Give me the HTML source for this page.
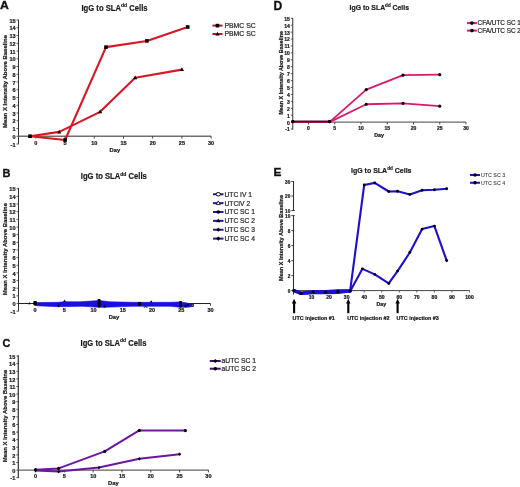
<!DOCTYPE html>
<html><head><meta charset="utf-8"><style>
html,body{margin:0;padding:0;background:#fff;}
body{width:520px;height:487px;overflow:hidden;}
svg{display:block;font-family:"Liberation Sans", sans-serif;will-change:transform;filter:blur(0.25px);}
</style></head><body>
<svg width="520" height="487" viewBox="0 0 520 487">
<rect width="520" height="487" fill="#fff"/>
<text x="0" y="0" font-size="11.8" font-weight="bold" fill="#111" stroke="#111" stroke-width="0.3" transform="translate(0.10 8.70) scale(1.04 1)">A</text>
<text x="81.50" y="11.00" font-size="8.5" font-weight="bold" fill="#1a1a1a" stroke="#1a1a1a" stroke-width="0.2" textLength="66.10" lengthAdjust="spacingAndGlyphs">IgG to SLA<tspan font-size="5.61" dy="-3.65">dd</tspan><tspan dy="3.65"> Cells</tspan></text>
<line x1="18.50" y1="19.60" x2="18.50" y2="144.20" stroke="#333" stroke-width="1.0"/>
<line x1="16.50" y1="144.00" x2="18.50" y2="144.00" stroke="#333" stroke-width="0.8"/>
<text x="15.50" y="146.58" font-size="5.5" font-weight="bold" text-anchor="end" fill="#1a1a1a" stroke="#1a1a1a" stroke-width="0.22">-1</text>
<line x1="16.50" y1="136.25" x2="18.50" y2="136.25" stroke="#333" stroke-width="0.8"/>
<text x="15.50" y="138.83" font-size="5.5" font-weight="bold" text-anchor="end" fill="#1a1a1a" stroke="#1a1a1a" stroke-width="0.22">0</text>
<line x1="16.50" y1="128.50" x2="18.50" y2="128.50" stroke="#333" stroke-width="0.8"/>
<text x="15.50" y="131.08" font-size="5.5" font-weight="bold" text-anchor="end" fill="#1a1a1a" stroke="#1a1a1a" stroke-width="0.22">1</text>
<line x1="16.50" y1="120.75" x2="18.50" y2="120.75" stroke="#333" stroke-width="0.8"/>
<text x="15.50" y="123.33" font-size="5.5" font-weight="bold" text-anchor="end" fill="#1a1a1a" stroke="#1a1a1a" stroke-width="0.22">2</text>
<line x1="16.50" y1="113.00" x2="18.50" y2="113.00" stroke="#333" stroke-width="0.8"/>
<text x="15.50" y="115.58" font-size="5.5" font-weight="bold" text-anchor="end" fill="#1a1a1a" stroke="#1a1a1a" stroke-width="0.22">3</text>
<line x1="16.50" y1="105.25" x2="18.50" y2="105.25" stroke="#333" stroke-width="0.8"/>
<text x="15.50" y="107.83" font-size="5.5" font-weight="bold" text-anchor="end" fill="#1a1a1a" stroke="#1a1a1a" stroke-width="0.22">4</text>
<line x1="16.50" y1="97.50" x2="18.50" y2="97.50" stroke="#333" stroke-width="0.8"/>
<text x="15.50" y="100.08" font-size="5.5" font-weight="bold" text-anchor="end" fill="#1a1a1a" stroke="#1a1a1a" stroke-width="0.22">5</text>
<line x1="16.50" y1="89.75" x2="18.50" y2="89.75" stroke="#333" stroke-width="0.8"/>
<text x="15.50" y="92.33" font-size="5.5" font-weight="bold" text-anchor="end" fill="#1a1a1a" stroke="#1a1a1a" stroke-width="0.22">6</text>
<line x1="16.50" y1="82.00" x2="18.50" y2="82.00" stroke="#333" stroke-width="0.8"/>
<text x="15.50" y="84.58" font-size="5.5" font-weight="bold" text-anchor="end" fill="#1a1a1a" stroke="#1a1a1a" stroke-width="0.22">7</text>
<line x1="16.50" y1="74.25" x2="18.50" y2="74.25" stroke="#333" stroke-width="0.8"/>
<text x="15.50" y="76.83" font-size="5.5" font-weight="bold" text-anchor="end" fill="#1a1a1a" stroke="#1a1a1a" stroke-width="0.22">8</text>
<line x1="16.50" y1="66.50" x2="18.50" y2="66.50" stroke="#333" stroke-width="0.8"/>
<text x="15.50" y="69.08" font-size="5.5" font-weight="bold" text-anchor="end" fill="#1a1a1a" stroke="#1a1a1a" stroke-width="0.22">9</text>
<line x1="16.50" y1="58.75" x2="18.50" y2="58.75" stroke="#333" stroke-width="0.8"/>
<text x="15.50" y="61.33" font-size="5.5" font-weight="bold" text-anchor="end" fill="#1a1a1a" stroke="#1a1a1a" stroke-width="0.22">10</text>
<line x1="16.50" y1="51.00" x2="18.50" y2="51.00" stroke="#333" stroke-width="0.8"/>
<text x="15.50" y="53.58" font-size="5.5" font-weight="bold" text-anchor="end" fill="#1a1a1a" stroke="#1a1a1a" stroke-width="0.22">11</text>
<line x1="16.50" y1="43.25" x2="18.50" y2="43.25" stroke="#333" stroke-width="0.8"/>
<text x="15.50" y="45.83" font-size="5.5" font-weight="bold" text-anchor="end" fill="#1a1a1a" stroke="#1a1a1a" stroke-width="0.22">12</text>
<line x1="16.50" y1="35.50" x2="18.50" y2="35.50" stroke="#333" stroke-width="0.8"/>
<text x="15.50" y="38.08" font-size="5.5" font-weight="bold" text-anchor="end" fill="#1a1a1a" stroke="#1a1a1a" stroke-width="0.22">13</text>
<line x1="16.50" y1="27.75" x2="18.50" y2="27.75" stroke="#333" stroke-width="0.8"/>
<text x="15.50" y="30.33" font-size="5.5" font-weight="bold" text-anchor="end" fill="#1a1a1a" stroke="#1a1a1a" stroke-width="0.22">14</text>
<line x1="16.50" y1="20.00" x2="18.50" y2="20.00" stroke="#333" stroke-width="0.8"/>
<text x="15.50" y="22.58" font-size="5.5" font-weight="bold" text-anchor="end" fill="#1a1a1a" stroke="#1a1a1a" stroke-width="0.22">15</text>
<line x1="18.50" y1="136.25" x2="211.20" y2="136.25" stroke="#707070" stroke-width="1.4"/>
<line x1="35.90" y1="136.25" x2="35.90" y2="138.55" stroke="#333" stroke-width="0.9"/>
<text x="35.90" y="144.75" font-size="5.5" font-weight="bold" text-anchor="middle" fill="#1a1a1a" stroke="#1a1a1a" stroke-width="0.22">0</text>
<line x1="65.10" y1="136.25" x2="65.10" y2="138.55" stroke="#333" stroke-width="0.9"/>
<text x="65.10" y="144.75" font-size="5.5" font-weight="bold" text-anchor="middle" fill="#1a1a1a" stroke="#1a1a1a" stroke-width="0.22">5</text>
<line x1="94.30" y1="136.25" x2="94.30" y2="138.55" stroke="#333" stroke-width="0.9"/>
<text x="94.30" y="144.75" font-size="5.5" font-weight="bold" text-anchor="middle" fill="#1a1a1a" stroke="#1a1a1a" stroke-width="0.22">10</text>
<line x1="123.50" y1="136.25" x2="123.50" y2="138.55" stroke="#333" stroke-width="0.9"/>
<text x="123.50" y="144.75" font-size="5.5" font-weight="bold" text-anchor="middle" fill="#1a1a1a" stroke="#1a1a1a" stroke-width="0.22">15</text>
<line x1="152.70" y1="136.25" x2="152.70" y2="138.55" stroke="#333" stroke-width="0.9"/>
<text x="152.70" y="144.75" font-size="5.5" font-weight="bold" text-anchor="middle" fill="#1a1a1a" stroke="#1a1a1a" stroke-width="0.22">20</text>
<line x1="181.90" y1="136.25" x2="181.90" y2="138.55" stroke="#333" stroke-width="0.9"/>
<text x="181.90" y="144.75" font-size="5.5" font-weight="bold" text-anchor="middle" fill="#1a1a1a" stroke="#1a1a1a" stroke-width="0.22">25</text>
<line x1="211.10" y1="136.25" x2="211.10" y2="138.55" stroke="#333" stroke-width="0.9"/>
<text x="211.10" y="144.75" font-size="5.5" font-weight="bold" text-anchor="middle" fill="#1a1a1a" stroke="#1a1a1a" stroke-width="0.22">30</text>
<text x="5.10" y="81.50" font-size="5.98" font-weight="bold" text-anchor="middle" fill="#1a1a1a" stroke="#1a1a1a" stroke-width="0.22" transform="rotate(-90 5.1 81.5)" dominant-baseline="middle">Mean X Intensity Above Baseline</text>
<text x="114.90" y="152.00" font-size="5.8" font-weight="bold" text-anchor="middle" fill="#1a1a1a" stroke="#1a1a1a" stroke-width="0.22">Day</text>
<polyline points="30.06,136.25 59.26,131.91 100.14,111.84 135.18,77.66 181.90,69.60" fill="none" stroke="#da1622" stroke-width="2.1" stroke-linejoin="round" stroke-linecap="round"/>
<polygon points="30.06,133.98 32.16,137.76 27.96,137.76" fill="#000"/>
<polygon points="59.26,129.64 61.36,133.42 57.16,133.42" fill="#000"/>
<polygon points="100.14,109.57 102.24,113.35 98.04,113.35" fill="#000"/>
<polygon points="135.18,75.39 137.28,79.17 133.08,79.17" fill="#000"/>
<polygon points="181.90,67.33 184.00,71.11 179.80,71.11" fill="#000"/>
<polyline points="30.06,136.25 65.10,139.97 105.98,47.12 146.86,40.92 187.74,26.98" fill="none" stroke="#da1622" stroke-width="2.1" stroke-linejoin="round" stroke-linecap="round"/>
<rect x="28.26" y="134.45" width="3.60" height="3.60" fill="#000"/>
<rect x="63.30" y="138.17" width="3.60" height="3.60" fill="#000"/>
<rect x="104.18" y="45.33" width="3.60" height="3.60" fill="#000"/>
<rect x="145.06" y="39.12" width="3.60" height="3.60" fill="#000"/>
<rect x="185.94" y="25.18" width="3.60" height="3.60" fill="#000"/>
<line x1="212.40" y1="25.60" x2="222.50" y2="25.60" stroke="#c01424" stroke-width="2.0"/>
<rect x="215.65" y="23.80" width="3.60" height="3.60" fill="#000"/>
<text x="224.40" y="28.08" font-size="6.9" font-weight="normal" text-anchor="start" fill="#2a2a2a" stroke="#2a2a2a" stroke-width="0.22">PBMC SC</text>
<line x1="212.40" y1="34.00" x2="222.50" y2="34.00" stroke="#c01424" stroke-width="2.0"/>
<polygon points="217.45,31.76 219.52,35.49 215.38,35.49" fill="#000"/>
<text x="224.40" y="36.48" font-size="6.9" font-weight="normal" text-anchor="start" fill="#2a2a2a" stroke="#2a2a2a" stroke-width="0.22">PBMC SC</text>
<text x="0" y="0" font-size="11.9" font-weight="bold" fill="#111" stroke="#111" stroke-width="0.3" transform="translate(273.40 9.75) scale(1.02 1)">D</text>
<text x="349.60" y="9.90" font-size="7.3" font-weight="bold" fill="#1a1a1a" stroke="#1a1a1a" stroke-width="0.2" textLength="59.40" lengthAdjust="spacingAndGlyphs">IgG to SLA<tspan font-size="4.82" dy="-3.14">dd</tspan><tspan dy="3.14"> Cells</tspan></text>
<line x1="292.75" y1="18.00" x2="292.75" y2="129.70" stroke="#333" stroke-width="1.0"/>
<line x1="290.75" y1="129.02" x2="292.75" y2="129.02" stroke="#333" stroke-width="0.8"/>
<text x="289.75" y="131.42" font-size="5.0" font-weight="bold" text-anchor="end" fill="#1a1a1a" stroke="#1a1a1a" stroke-width="0.22">-1</text>
<line x1="290.75" y1="122.10" x2="292.75" y2="122.10" stroke="#333" stroke-width="0.8"/>
<text x="289.75" y="124.50" font-size="5.0" font-weight="bold" text-anchor="end" fill="#1a1a1a" stroke="#1a1a1a" stroke-width="0.22">0</text>
<line x1="290.75" y1="115.18" x2="292.75" y2="115.18" stroke="#333" stroke-width="0.8"/>
<text x="289.75" y="117.58" font-size="5.0" font-weight="bold" text-anchor="end" fill="#1a1a1a" stroke="#1a1a1a" stroke-width="0.22">1</text>
<line x1="290.75" y1="108.26" x2="292.75" y2="108.26" stroke="#333" stroke-width="0.8"/>
<text x="289.75" y="110.66" font-size="5.0" font-weight="bold" text-anchor="end" fill="#1a1a1a" stroke="#1a1a1a" stroke-width="0.22">2</text>
<line x1="290.75" y1="101.34" x2="292.75" y2="101.34" stroke="#333" stroke-width="0.8"/>
<text x="289.75" y="103.74" font-size="5.0" font-weight="bold" text-anchor="end" fill="#1a1a1a" stroke="#1a1a1a" stroke-width="0.22">3</text>
<line x1="290.75" y1="94.42" x2="292.75" y2="94.42" stroke="#333" stroke-width="0.8"/>
<text x="289.75" y="96.82" font-size="5.0" font-weight="bold" text-anchor="end" fill="#1a1a1a" stroke="#1a1a1a" stroke-width="0.22">4</text>
<line x1="290.75" y1="87.50" x2="292.75" y2="87.50" stroke="#333" stroke-width="0.8"/>
<text x="289.75" y="89.90" font-size="5.0" font-weight="bold" text-anchor="end" fill="#1a1a1a" stroke="#1a1a1a" stroke-width="0.22">5</text>
<line x1="290.75" y1="80.58" x2="292.75" y2="80.58" stroke="#333" stroke-width="0.8"/>
<text x="289.75" y="82.98" font-size="5.0" font-weight="bold" text-anchor="end" fill="#1a1a1a" stroke="#1a1a1a" stroke-width="0.22">6</text>
<line x1="290.75" y1="73.66" x2="292.75" y2="73.66" stroke="#333" stroke-width="0.8"/>
<text x="289.75" y="76.06" font-size="5.0" font-weight="bold" text-anchor="end" fill="#1a1a1a" stroke="#1a1a1a" stroke-width="0.22">7</text>
<line x1="290.75" y1="66.74" x2="292.75" y2="66.74" stroke="#333" stroke-width="0.8"/>
<text x="289.75" y="69.14" font-size="5.0" font-weight="bold" text-anchor="end" fill="#1a1a1a" stroke="#1a1a1a" stroke-width="0.22">8</text>
<line x1="290.75" y1="59.82" x2="292.75" y2="59.82" stroke="#333" stroke-width="0.8"/>
<text x="289.75" y="62.22" font-size="5.0" font-weight="bold" text-anchor="end" fill="#1a1a1a" stroke="#1a1a1a" stroke-width="0.22">9</text>
<line x1="290.75" y1="52.90" x2="292.75" y2="52.90" stroke="#333" stroke-width="0.8"/>
<text x="289.75" y="55.30" font-size="5.0" font-weight="bold" text-anchor="end" fill="#1a1a1a" stroke="#1a1a1a" stroke-width="0.22">10</text>
<line x1="290.75" y1="45.98" x2="292.75" y2="45.98" stroke="#333" stroke-width="0.8"/>
<text x="289.75" y="48.38" font-size="5.0" font-weight="bold" text-anchor="end" fill="#1a1a1a" stroke="#1a1a1a" stroke-width="0.22">11</text>
<line x1="290.75" y1="39.06" x2="292.75" y2="39.06" stroke="#333" stroke-width="0.8"/>
<text x="289.75" y="41.46" font-size="5.0" font-weight="bold" text-anchor="end" fill="#1a1a1a" stroke="#1a1a1a" stroke-width="0.22">12</text>
<line x1="290.75" y1="32.14" x2="292.75" y2="32.14" stroke="#333" stroke-width="0.8"/>
<text x="289.75" y="34.54" font-size="5.0" font-weight="bold" text-anchor="end" fill="#1a1a1a" stroke="#1a1a1a" stroke-width="0.22">13</text>
<line x1="290.75" y1="25.22" x2="292.75" y2="25.22" stroke="#333" stroke-width="0.8"/>
<text x="289.75" y="27.62" font-size="5.0" font-weight="bold" text-anchor="end" fill="#1a1a1a" stroke="#1a1a1a" stroke-width="0.22">14</text>
<line x1="290.75" y1="18.30" x2="292.75" y2="18.30" stroke="#333" stroke-width="0.8"/>
<text x="289.75" y="20.70" font-size="5.0" font-weight="bold" text-anchor="end" fill="#1a1a1a" stroke="#1a1a1a" stroke-width="0.22">15</text>
<line x1="292.75" y1="122.10" x2="466.00" y2="122.10" stroke="#444" stroke-width="1.0"/>
<line x1="308.50" y1="122.10" x2="308.50" y2="124.40" stroke="#333" stroke-width="0.9"/>
<text x="308.50" y="129.70" font-size="5.0" font-weight="bold" text-anchor="middle" fill="#1a1a1a" stroke="#1a1a1a" stroke-width="0.22">0</text>
<line x1="334.75" y1="122.10" x2="334.75" y2="124.40" stroke="#333" stroke-width="0.9"/>
<text x="334.75" y="129.70" font-size="5.0" font-weight="bold" text-anchor="middle" fill="#1a1a1a" stroke="#1a1a1a" stroke-width="0.22">5</text>
<line x1="361.00" y1="122.10" x2="361.00" y2="124.40" stroke="#333" stroke-width="0.9"/>
<text x="361.00" y="129.70" font-size="5.0" font-weight="bold" text-anchor="middle" fill="#1a1a1a" stroke="#1a1a1a" stroke-width="0.22">10</text>
<line x1="387.25" y1="122.10" x2="387.25" y2="124.40" stroke="#333" stroke-width="0.9"/>
<text x="387.25" y="129.70" font-size="5.0" font-weight="bold" text-anchor="middle" fill="#1a1a1a" stroke="#1a1a1a" stroke-width="0.22">15</text>
<line x1="413.50" y1="122.10" x2="413.50" y2="124.40" stroke="#333" stroke-width="0.9"/>
<text x="413.50" y="129.70" font-size="5.0" font-weight="bold" text-anchor="middle" fill="#1a1a1a" stroke="#1a1a1a" stroke-width="0.22">20</text>
<line x1="439.75" y1="122.10" x2="439.75" y2="124.40" stroke="#333" stroke-width="0.9"/>
<text x="439.75" y="129.70" font-size="5.0" font-weight="bold" text-anchor="middle" fill="#1a1a1a" stroke="#1a1a1a" stroke-width="0.22">25</text>
<line x1="466.00" y1="122.10" x2="466.00" y2="124.40" stroke="#333" stroke-width="0.9"/>
<text x="466.00" y="129.70" font-size="5.0" font-weight="bold" text-anchor="middle" fill="#1a1a1a" stroke="#1a1a1a" stroke-width="0.22">30</text>
<text x="281.90" y="72.85" font-size="5.36" font-weight="bold" text-anchor="middle" fill="#1a1a1a" stroke="#1a1a1a" stroke-width="0.22" transform="rotate(-90 281.9 72.85)" dominant-baseline="middle">Mean X Intensity Above Baseline</text>
<text x="379.00" y="137.00" font-size="5.3" font-weight="bold" text-anchor="middle" fill="#1a1a1a" stroke="#1a1a1a" stroke-width="0.22">Day</text>
<polyline points="292.75,122.10 329.50,122.10 366.25,89.58 403.00,75.18 439.75,74.63" fill="none" stroke="#d81a70" stroke-width="1.8" stroke-linejoin="round" stroke-linecap="round"/>
<polyline points="292.75,122.10 329.50,122.10 366.25,104.25 403.00,103.35 439.75,106.18" fill="none" stroke="#d81a70" stroke-width="1.8" stroke-linejoin="round" stroke-linecap="round"/>
<line x1="292.75" y1="121.60" x2="329.50" y2="121.60" stroke="#5a0a30" stroke-width="2.0"/>
<circle cx="292.75" cy="121.60" r="1.60" fill="#000"/>
<circle cx="329.50" cy="121.60" r="1.60" fill="#000"/>
<circle cx="366.25" cy="89.58" r="1.60" fill="#000"/>
<circle cx="403.00" cy="75.18" r="1.60" fill="#000"/>
<circle cx="439.75" cy="74.63" r="1.60" fill="#000"/>
<circle cx="292.75" cy="121.60" r="1.60" fill="#000"/>
<circle cx="329.50" cy="121.60" r="1.60" fill="#000"/>
<circle cx="366.25" cy="104.25" r="1.60" fill="#000"/>
<circle cx="403.00" cy="103.35" r="1.60" fill="#000"/>
<circle cx="439.75" cy="106.18" r="1.60" fill="#000"/>
<line x1="466.90" y1="23.10" x2="476.90" y2="23.10" stroke="#d81a70" stroke-width="2.0"/>
<circle cx="471.90" cy="23.10" r="1.80" fill="#000"/>
<text x="477.60" y="25.40" font-size="6.4" font-weight="normal" text-anchor="start" fill="#2a2a2a" stroke="#2a2a2a" stroke-width="0.22">CFA/UTC SC 1</text>
<line x1="466.90" y1="30.60" x2="476.90" y2="30.60" stroke="#d81a70" stroke-width="2.0"/>
<circle cx="471.90" cy="30.60" r="1.80" fill="#000"/>
<text x="477.60" y="32.90" font-size="6.4" font-weight="normal" text-anchor="start" fill="#2a2a2a" stroke="#2a2a2a" stroke-width="0.22">CFA/UTC SC 2</text>
<text x="0" y="0" font-size="11.4" font-weight="bold" fill="#111" stroke="#111" stroke-width="0.3" transform="translate(2.60 176.95) scale(0.97 1)">B</text>
<text x="80.80" y="179.40" font-size="8.5" font-weight="bold" fill="#1a1a1a" stroke="#1a1a1a" stroke-width="0.2" textLength="66.00" lengthAdjust="spacingAndGlyphs">IgG to SLA<tspan font-size="5.61" dy="-3.65">dd</tspan><tspan dy="3.65"> Cells</tspan></text>
<line x1="18.50" y1="188.00" x2="18.50" y2="311.30" stroke="#333" stroke-width="1.0"/>
<line x1="16.50" y1="311.15" x2="18.50" y2="311.15" stroke="#333" stroke-width="0.8"/>
<text x="15.50" y="313.77" font-size="5.6" font-weight="bold" text-anchor="end" fill="#1a1a1a" stroke="#1a1a1a" stroke-width="0.22">-1</text>
<line x1="16.50" y1="303.50" x2="18.50" y2="303.50" stroke="#333" stroke-width="0.8"/>
<text x="15.50" y="306.12" font-size="5.6" font-weight="bold" text-anchor="end" fill="#1a1a1a" stroke="#1a1a1a" stroke-width="0.22">0</text>
<line x1="16.50" y1="295.85" x2="18.50" y2="295.85" stroke="#333" stroke-width="0.8"/>
<text x="15.50" y="298.47" font-size="5.6" font-weight="bold" text-anchor="end" fill="#1a1a1a" stroke="#1a1a1a" stroke-width="0.22">1</text>
<line x1="16.50" y1="288.20" x2="18.50" y2="288.20" stroke="#333" stroke-width="0.8"/>
<text x="15.50" y="290.82" font-size="5.6" font-weight="bold" text-anchor="end" fill="#1a1a1a" stroke="#1a1a1a" stroke-width="0.22">2</text>
<line x1="16.50" y1="280.55" x2="18.50" y2="280.55" stroke="#333" stroke-width="0.8"/>
<text x="15.50" y="283.17" font-size="5.6" font-weight="bold" text-anchor="end" fill="#1a1a1a" stroke="#1a1a1a" stroke-width="0.22">3</text>
<line x1="16.50" y1="272.90" x2="18.50" y2="272.90" stroke="#333" stroke-width="0.8"/>
<text x="15.50" y="275.52" font-size="5.6" font-weight="bold" text-anchor="end" fill="#1a1a1a" stroke="#1a1a1a" stroke-width="0.22">4</text>
<line x1="16.50" y1="265.25" x2="18.50" y2="265.25" stroke="#333" stroke-width="0.8"/>
<text x="15.50" y="267.87" font-size="5.6" font-weight="bold" text-anchor="end" fill="#1a1a1a" stroke="#1a1a1a" stroke-width="0.22">5</text>
<line x1="16.50" y1="257.60" x2="18.50" y2="257.60" stroke="#333" stroke-width="0.8"/>
<text x="15.50" y="260.22" font-size="5.6" font-weight="bold" text-anchor="end" fill="#1a1a1a" stroke="#1a1a1a" stroke-width="0.22">6</text>
<line x1="16.50" y1="249.95" x2="18.50" y2="249.95" stroke="#333" stroke-width="0.8"/>
<text x="15.50" y="252.57" font-size="5.6" font-weight="bold" text-anchor="end" fill="#1a1a1a" stroke="#1a1a1a" stroke-width="0.22">7</text>
<line x1="16.50" y1="242.30" x2="18.50" y2="242.30" stroke="#333" stroke-width="0.8"/>
<text x="15.50" y="244.92" font-size="5.6" font-weight="bold" text-anchor="end" fill="#1a1a1a" stroke="#1a1a1a" stroke-width="0.22">8</text>
<line x1="16.50" y1="234.65" x2="18.50" y2="234.65" stroke="#333" stroke-width="0.8"/>
<text x="15.50" y="237.27" font-size="5.6" font-weight="bold" text-anchor="end" fill="#1a1a1a" stroke="#1a1a1a" stroke-width="0.22">9</text>
<line x1="16.50" y1="227.00" x2="18.50" y2="227.00" stroke="#333" stroke-width="0.8"/>
<text x="15.50" y="229.62" font-size="5.6" font-weight="bold" text-anchor="end" fill="#1a1a1a" stroke="#1a1a1a" stroke-width="0.22">10</text>
<line x1="16.50" y1="219.35" x2="18.50" y2="219.35" stroke="#333" stroke-width="0.8"/>
<text x="15.50" y="221.97" font-size="5.6" font-weight="bold" text-anchor="end" fill="#1a1a1a" stroke="#1a1a1a" stroke-width="0.22">11</text>
<line x1="16.50" y1="211.70" x2="18.50" y2="211.70" stroke="#333" stroke-width="0.8"/>
<text x="15.50" y="214.32" font-size="5.6" font-weight="bold" text-anchor="end" fill="#1a1a1a" stroke="#1a1a1a" stroke-width="0.22">12</text>
<line x1="16.50" y1="204.05" x2="18.50" y2="204.05" stroke="#333" stroke-width="0.8"/>
<text x="15.50" y="206.67" font-size="5.6" font-weight="bold" text-anchor="end" fill="#1a1a1a" stroke="#1a1a1a" stroke-width="0.22">13</text>
<line x1="16.50" y1="196.40" x2="18.50" y2="196.40" stroke="#333" stroke-width="0.8"/>
<text x="15.50" y="199.02" font-size="5.6" font-weight="bold" text-anchor="end" fill="#1a1a1a" stroke="#1a1a1a" stroke-width="0.22">14</text>
<line x1="16.50" y1="188.75" x2="18.50" y2="188.75" stroke="#333" stroke-width="0.8"/>
<text x="15.50" y="191.37" font-size="5.6" font-weight="bold" text-anchor="end" fill="#1a1a1a" stroke="#1a1a1a" stroke-width="0.22">15</text>
<line x1="18.50" y1="303.50" x2="210.50" y2="303.50" stroke="#222" stroke-width="1.0"/>
<line x1="35.00" y1="303.50" x2="35.00" y2="305.80" stroke="#333" stroke-width="0.9"/>
<text x="35.00" y="311.80" font-size="5.5" font-weight="bold" text-anchor="middle" fill="#1a1a1a" stroke="#1a1a1a" stroke-width="0.22">0</text>
<line x1="64.25" y1="303.50" x2="64.25" y2="305.80" stroke="#333" stroke-width="0.9"/>
<text x="64.25" y="311.80" font-size="5.5" font-weight="bold" text-anchor="middle" fill="#1a1a1a" stroke="#1a1a1a" stroke-width="0.22">5</text>
<line x1="93.50" y1="303.50" x2="93.50" y2="305.80" stroke="#333" stroke-width="0.9"/>
<text x="93.50" y="311.80" font-size="5.5" font-weight="bold" text-anchor="middle" fill="#1a1a1a" stroke="#1a1a1a" stroke-width="0.22">10</text>
<line x1="122.75" y1="303.50" x2="122.75" y2="305.80" stroke="#333" stroke-width="0.9"/>
<text x="122.75" y="311.80" font-size="5.5" font-weight="bold" text-anchor="middle" fill="#1a1a1a" stroke="#1a1a1a" stroke-width="0.22">15</text>
<line x1="152.00" y1="303.50" x2="152.00" y2="305.80" stroke="#333" stroke-width="0.9"/>
<text x="152.00" y="311.80" font-size="5.5" font-weight="bold" text-anchor="middle" fill="#1a1a1a" stroke="#1a1a1a" stroke-width="0.22">20</text>
<line x1="181.25" y1="303.50" x2="181.25" y2="305.80" stroke="#333" stroke-width="0.9"/>
<text x="181.25" y="311.80" font-size="5.5" font-weight="bold" text-anchor="middle" fill="#1a1a1a" stroke="#1a1a1a" stroke-width="0.22">25</text>
<line x1="210.50" y1="303.50" x2="210.50" y2="305.80" stroke="#333" stroke-width="0.9"/>
<text x="210.50" y="311.80" font-size="5.5" font-weight="bold" text-anchor="middle" fill="#1a1a1a" stroke="#1a1a1a" stroke-width="0.22">30</text>
<text x="5.20" y="249.10" font-size="5.93" font-weight="bold" text-anchor="middle" fill="#1a1a1a" stroke="#1a1a1a" stroke-width="0.22" transform="rotate(-90 5.2 249.1)" dominant-baseline="middle">Mean X Intensity Above Baseline</text>
<text x="114.00" y="319.20" font-size="5.8" font-weight="bold" text-anchor="middle" fill="#1a1a1a" stroke="#1a1a1a" stroke-width="0.22">Day</text>
<polygon points="35.00,302.60 58.00,302.30 64.50,301.70 80.00,301.80 99.00,300.50 110.00,301.80 132.00,302.30 151.00,302.30 170.00,302.30 180.00,301.90 186.00,302.80 190.00,303.70 193.50,304.30 193.50,306.30 188.00,307.30 180.00,307.30 170.00,306.30 150.00,306.30 132.00,306.30 105.00,307.30 99.00,307.30 82.00,306.30 58.00,306.70 37.00,305.80 35.00,305.30" fill="#1a0ee0" stroke="#1a0ee0" stroke-width="0.6" stroke-linejoin="round"/>
<polygon points="29.30,301.90 30.60,304.24 28.00,304.24" fill="#000"/>
<rect x="33.3" y="301.0" width="3.6" height="4.2" rx="1" fill="#000"/>
<polygon points="58.50,304.30 60.00,305.80 58.50,307.30 57.00,305.80" fill="#000"/>
<polygon points="64.50,299.49 65.90,302.01 63.10,302.01" fill="#000"/>
<rect x="97.6" y="299.0" width="3.0" height="8.4" rx="0.8" fill="#000"/>
<circle cx="104.50" cy="306.40" r="1.20" fill="#000"/>
<rect x="138.0" y="302.0" width="3.2" height="3.6" fill="#000"/>
<path d="M143.8,307.4 Q145.5,306.0 147.4,307.4" fill="none" stroke="#000" stroke-width="0.9"/>
<polygon points="151.20,300.20 152.50,302.54 149.90,302.54" fill="#000"/>
<rect x="179.2" y="301.0" width="2.8" height="6.6" rx="0.8" fill="#000"/>
<circle cx="185.50" cy="306.00" r="1.20" fill="#000"/>
<circle cx="187.80" cy="305.00" r="1.00" fill="#000"/>
<polygon points="192.20,303.60 193.50,305.94 190.90,305.94" fill="#fff" stroke="#000" stroke-width="0.8"/>
<line x1="213.00" y1="194.25" x2="223.50" y2="194.25" stroke="#201a9a" stroke-width="2.0"/>
<ellipse cx="218.25" cy="194.25" rx="2.25" ry="1.73" fill="#fff" stroke="#000" stroke-width="1.0"/>
<text x="224.50" y="196.66" font-size="6.7" font-weight="normal" text-anchor="start" fill="#2a2a2a" stroke="#2a2a2a" stroke-width="0.22">UTC IV 1</text>
<line x1="213.00" y1="203.12" x2="223.50" y2="203.12" stroke="#201a9a" stroke-width="2.0"/>
<polygon points="218.25,200.88 220.32,204.61 216.18,204.61" fill="#fff" stroke="#000" stroke-width="0.8"/>
<text x="224.50" y="205.53" font-size="6.7" font-weight="normal" text-anchor="start" fill="#2a2a2a" stroke="#2a2a2a" stroke-width="0.22">UTCIV 2</text>
<line x1="213.00" y1="211.99" x2="223.50" y2="211.99" stroke="#201a9a" stroke-width="2.0"/>
<circle cx="218.25" cy="211.99" r="1.80" fill="#000"/>
<text x="224.50" y="214.40" font-size="6.7" font-weight="normal" text-anchor="start" fill="#2a2a2a" stroke="#2a2a2a" stroke-width="0.22">UTC SC 1</text>
<line x1="213.00" y1="220.86" x2="223.50" y2="220.86" stroke="#201a9a" stroke-width="2.0"/>
<polygon points="218.25,218.62 220.32,222.35 216.18,222.35" fill="#000"/>
<text x="224.50" y="223.27" font-size="6.7" font-weight="normal" text-anchor="start" fill="#2a2a2a" stroke="#2a2a2a" stroke-width="0.22">UTC SC 2</text>
<line x1="213.00" y1="229.73" x2="223.50" y2="229.73" stroke="#201a9a" stroke-width="2.0"/>
<polygon points="218.25,227.66 220.32,229.73 218.25,231.80 216.18,229.73" fill="#000"/>
<text x="224.50" y="232.14" font-size="6.7" font-weight="normal" text-anchor="start" fill="#2a2a2a" stroke="#2a2a2a" stroke-width="0.22">UTC SC 3</text>
<line x1="213.00" y1="238.60" x2="223.50" y2="238.60" stroke="#201a9a" stroke-width="2.0"/>
<polygon points="218.25,236.53 220.32,238.60 218.25,240.67 216.18,238.60" fill="#000"/>
<text x="224.50" y="241.01" font-size="6.7" font-weight="normal" text-anchor="start" fill="#2a2a2a" stroke="#2a2a2a" stroke-width="0.22">UTC SC 4</text>
<text x="0" y="0" font-size="11.0" font-weight="bold" fill="#111" stroke="#111" stroke-width="0.3" transform="translate(273.40 176.30) scale(1.08 1)">E</text>
<text x="351.00" y="173.40" font-size="7.4" font-weight="bold" fill="#1a1a1a" stroke="#1a1a1a" stroke-width="0.2" textLength="60.50" lengthAdjust="spacingAndGlyphs">IgG to SLA<tspan font-size="4.88" dy="-3.18">dd</tspan><tspan dy="3.18"> Cells</tspan></text>
<line x1="293.50" y1="181.00" x2="293.50" y2="210.60" stroke="#333" stroke-width="1.1"/>
<line x1="291.30" y1="181.50" x2="293.50" y2="181.50" stroke="#333" stroke-width="0.9"/>
<text x="290.30" y="183.70" font-size="4.7" font-weight="bold" text-anchor="end" fill="#1a1a1a" stroke="#1a1a1a" stroke-width="0.22">30</text>
<line x1="291.30" y1="196.00" x2="293.50" y2="196.00" stroke="#333" stroke-width="0.9"/>
<text x="290.30" y="198.20" font-size="4.7" font-weight="bold" text-anchor="end" fill="#1a1a1a" stroke="#1a1a1a" stroke-width="0.22">20</text>
<line x1="291.30" y1="210.50" x2="294.80" y2="210.50" stroke="#333" stroke-width="0.9"/>
<text x="290.30" y="212.70" font-size="4.7" font-weight="bold" text-anchor="end" fill="#1a1a1a" stroke="#1a1a1a" stroke-width="0.22">10</text>
<line x1="293.50" y1="215.30" x2="293.50" y2="294.50" stroke="#333" stroke-width="1.1"/>
<line x1="291.30" y1="290.60" x2="293.50" y2="290.60" stroke="#333" stroke-width="0.9"/>
<text x="290.30" y="292.80" font-size="4.7" font-weight="bold" text-anchor="end" fill="#1a1a1a" stroke="#1a1a1a" stroke-width="0.22">0</text>
<line x1="291.30" y1="275.60" x2="293.50" y2="275.60" stroke="#333" stroke-width="0.9"/>
<text x="290.30" y="277.80" font-size="4.7" font-weight="bold" text-anchor="end" fill="#1a1a1a" stroke="#1a1a1a" stroke-width="0.22">2</text>
<line x1="291.30" y1="260.60" x2="293.50" y2="260.60" stroke="#333" stroke-width="0.9"/>
<text x="290.30" y="262.80" font-size="4.7" font-weight="bold" text-anchor="end" fill="#1a1a1a" stroke="#1a1a1a" stroke-width="0.22">4</text>
<line x1="291.30" y1="245.60" x2="293.50" y2="245.60" stroke="#333" stroke-width="0.9"/>
<text x="290.30" y="247.80" font-size="4.7" font-weight="bold" text-anchor="end" fill="#1a1a1a" stroke="#1a1a1a" stroke-width="0.22">6</text>
<line x1="291.30" y1="230.60" x2="293.50" y2="230.60" stroke="#333" stroke-width="0.9"/>
<text x="290.30" y="232.80" font-size="4.7" font-weight="bold" text-anchor="end" fill="#1a1a1a" stroke="#1a1a1a" stroke-width="0.22">8</text>
<line x1="291.30" y1="215.60" x2="294.80" y2="215.60" stroke="#333" stroke-width="0.9"/>
<text x="290.30" y="217.80" font-size="4.7" font-weight="bold" text-anchor="end" fill="#1a1a1a" stroke="#1a1a1a" stroke-width="0.22">10</text>
<line x1="293.50" y1="290.60" x2="469.60" y2="290.60" stroke="#444" stroke-width="1.0"/>
<line x1="311.55" y1="290.60" x2="311.55" y2="292.60" stroke="#444" stroke-width="0.8"/>
<text x="311.55" y="298.90" font-size="5.0" font-weight="bold" text-anchor="middle" fill="#1a1a1a" stroke="#1a1a1a" stroke-width="0.22">10</text>
<line x1="329.10" y1="290.60" x2="329.10" y2="292.60" stroke="#444" stroke-width="0.8"/>
<text x="329.10" y="298.90" font-size="5.0" font-weight="bold" text-anchor="middle" fill="#1a1a1a" stroke="#1a1a1a" stroke-width="0.22">20</text>
<line x1="346.65" y1="290.60" x2="346.65" y2="292.60" stroke="#444" stroke-width="0.8"/>
<text x="346.65" y="298.90" font-size="5.0" font-weight="bold" text-anchor="middle" fill="#1a1a1a" stroke="#1a1a1a" stroke-width="0.22">30</text>
<line x1="364.20" y1="290.60" x2="364.20" y2="292.60" stroke="#444" stroke-width="0.8"/>
<text x="364.20" y="298.90" font-size="5.0" font-weight="bold" text-anchor="middle" fill="#1a1a1a" stroke="#1a1a1a" stroke-width="0.22">40</text>
<line x1="381.75" y1="290.60" x2="381.75" y2="292.60" stroke="#444" stroke-width="0.8"/>
<text x="381.75" y="298.90" font-size="5.0" font-weight="bold" text-anchor="middle" fill="#1a1a1a" stroke="#1a1a1a" stroke-width="0.22">50</text>
<line x1="399.30" y1="290.60" x2="399.30" y2="292.60" stroke="#444" stroke-width="0.8"/>
<text x="399.30" y="298.90" font-size="5.0" font-weight="bold" text-anchor="middle" fill="#1a1a1a" stroke="#1a1a1a" stroke-width="0.22">60</text>
<line x1="416.85" y1="290.60" x2="416.85" y2="292.60" stroke="#444" stroke-width="0.8"/>
<text x="416.85" y="298.90" font-size="5.0" font-weight="bold" text-anchor="middle" fill="#1a1a1a" stroke="#1a1a1a" stroke-width="0.22">70</text>
<line x1="434.40" y1="290.60" x2="434.40" y2="292.60" stroke="#444" stroke-width="0.8"/>
<text x="434.40" y="298.90" font-size="5.0" font-weight="bold" text-anchor="middle" fill="#1a1a1a" stroke="#1a1a1a" stroke-width="0.22">80</text>
<line x1="451.95" y1="290.60" x2="451.95" y2="292.60" stroke="#444" stroke-width="0.8"/>
<text x="451.95" y="298.90" font-size="5.0" font-weight="bold" text-anchor="middle" fill="#1a1a1a" stroke="#1a1a1a" stroke-width="0.22">90</text>
<line x1="469.50" y1="290.60" x2="469.50" y2="292.60" stroke="#444" stroke-width="0.8"/>
<text x="469.50" y="298.90" font-size="5.0" font-weight="bold" text-anchor="middle" fill="#1a1a1a" stroke="#1a1a1a" stroke-width="0.22">100</text>
<text x="281.70" y="237.90" font-size="5.52" font-weight="bold" text-anchor="middle" fill="#1a1a1a" stroke="#1a1a1a" stroke-width="0.22" transform="rotate(-90 281.7 237.9)" dominant-baseline="middle">Mean X Intensity Above Baseline</text>
<text x="381.30" y="305.80" font-size="5.3" font-weight="bold" text-anchor="middle" fill="#1a1a1a" stroke="#1a1a1a" stroke-width="0.22">Day</text>
<polyline points="294.00,290.60 301.02,293.41 313.31,292.10 325.59,292.10 337.88,291.54 350.16,290.98" fill="none" stroke="#1e10d0" stroke-width="3.4" stroke-linejoin="round" stroke-linecap="round"/>
<polyline points="294.00,290.60 301.02,292.85 313.31,290.98 325.59,290.98 337.88,290.23 350.16,290.60 364.20,185.00 374.73,182.90 388.77,191.50 397.54,191.30 409.83,194.40 422.12,190.30 434.40,189.80 446.69,188.80" fill="none" stroke="#1e10d0" stroke-width="2.1" stroke-linejoin="round" stroke-linecap="round"/>
<polyline points="294.00,290.60 301.02,293.98 313.31,293.23 325.59,293.23 337.88,292.85 350.16,291.35 362.44,268.85 374.73,274.40 388.77,283.48 397.54,271.10 409.83,252.50 422.12,229.10 434.40,226.10 446.69,260.60" fill="none" stroke="#1e10d0" stroke-width="2.1" stroke-linejoin="round" stroke-linecap="round"/>
<circle cx="294.00" cy="290.60" r="1.60" fill="#000"/>
<circle cx="301.02" cy="293.41" r="1.60" fill="#000"/>
<circle cx="313.31" cy="292.10" r="1.60" fill="#000"/>
<circle cx="325.59" cy="292.10" r="1.60" fill="#000"/>
<circle cx="337.88" cy="291.54" r="1.60" fill="#000"/>
<circle cx="350.16" cy="290.98" r="1.60" fill="#000"/>
<circle cx="364.20" cy="185.00" r="1.45" fill="#000"/>
<circle cx="374.73" cy="182.90" r="1.45" fill="#000"/>
<circle cx="388.77" cy="191.50" r="1.45" fill="#000"/>
<circle cx="397.54" cy="191.30" r="1.45" fill="#000"/>
<circle cx="409.83" cy="194.40" r="1.45" fill="#000"/>
<circle cx="422.12" cy="190.30" r="1.45" fill="#000"/>
<circle cx="434.40" cy="189.80" r="1.45" fill="#000"/>
<circle cx="446.69" cy="188.80" r="1.45" fill="#000"/>
<circle cx="362.44" cy="268.85" r="1.45" fill="#000"/>
<circle cx="374.73" cy="274.40" r="1.45" fill="#000"/>
<circle cx="388.77" cy="283.48" r="1.45" fill="#000"/>
<circle cx="397.54" cy="271.10" r="1.45" fill="#000"/>
<circle cx="409.83" cy="252.50" r="1.45" fill="#000"/>
<circle cx="422.12" cy="229.10" r="1.45" fill="#000"/>
<circle cx="434.40" cy="226.10" r="1.45" fill="#000"/>
<circle cx="446.69" cy="260.60" r="1.45" fill="#000"/>
<line x1="294.10" y1="302.00" x2="294.10" y2="313.20" stroke="#000" stroke-width="2.1"/>
<polygon points="294.10,298.80 296.30,303.40 291.90,303.40" fill="#000"/>
<line x1="348.30" y1="302.00" x2="348.30" y2="313.20" stroke="#000" stroke-width="2.1"/>
<polygon points="348.30,298.80 350.50,303.40 346.10,303.40" fill="#000"/>
<line x1="397.60" y1="302.00" x2="397.60" y2="313.20" stroke="#000" stroke-width="2.1"/>
<polygon points="397.60,298.80 399.80,303.40 395.40,303.40" fill="#000"/>
<text x="292.60" y="319.50" font-size="5.4" font-weight="bold" text-anchor="start" fill="#1a1a1a" stroke="#1a1a1a" stroke-width="0.22">UTC injection #1</text>
<text x="347.20" y="319.50" font-size="5.4" font-weight="bold" text-anchor="start" fill="#1a1a1a" stroke="#1a1a1a" stroke-width="0.22">UTC injection #2</text>
<text x="396.60" y="319.50" font-size="5.4" font-weight="bold" text-anchor="start" fill="#1a1a1a" stroke="#1a1a1a" stroke-width="0.22">UTC injection #3</text>
<line x1="470.00" y1="175.00" x2="480.00" y2="175.00" stroke="#1e10d0" stroke-width="2.0"/>
<circle cx="475.00" cy="175.00" r="1.80" fill="#000"/>
<text x="481.00" y="176.91" font-size="5.3" font-weight="normal" text-anchor="start" fill="#3a3a3a" stroke="#3a3a3a" stroke-width="0.08">UTC SC 3</text>
<line x1="470.00" y1="182.75" x2="480.00" y2="182.75" stroke="#1e10d0" stroke-width="2.0"/>
<circle cx="475.00" cy="182.75" r="1.80" fill="#000"/>
<text x="481.00" y="184.66" font-size="5.3" font-weight="normal" text-anchor="start" fill="#3a3a3a" stroke="#3a3a3a" stroke-width="0.08">UTC SC 4</text>
<text x="0" y="0" font-size="11.2" font-weight="bold" fill="#111" stroke="#111" stroke-width="0.3" transform="translate(2.50 347.45) scale(0.98 1)">C</text>
<text x="80.60" y="346.10" font-size="8.5" font-weight="bold" fill="#1a1a1a" stroke="#1a1a1a" stroke-width="0.2" textLength="65.80" lengthAdjust="spacingAndGlyphs">IgG to SLA<tspan font-size="5.61" dy="-3.65">dd</tspan><tspan dy="3.65"> Cells</tspan></text>
<line x1="18.30" y1="355.30" x2="18.30" y2="478.00" stroke="#333" stroke-width="1.2"/>
<line x1="16.30" y1="477.70" x2="18.30" y2="477.70" stroke="#333" stroke-width="0.8"/>
<text x="15.30" y="480.32" font-size="5.6" font-weight="bold" text-anchor="end" fill="#1a1a1a" stroke="#1a1a1a" stroke-width="0.22">-1</text>
<line x1="16.30" y1="470.10" x2="18.30" y2="470.10" stroke="#333" stroke-width="0.8"/>
<text x="15.30" y="472.72" font-size="5.6" font-weight="bold" text-anchor="end" fill="#1a1a1a" stroke="#1a1a1a" stroke-width="0.22">0</text>
<line x1="16.30" y1="462.50" x2="18.30" y2="462.50" stroke="#333" stroke-width="0.8"/>
<text x="15.30" y="465.12" font-size="5.6" font-weight="bold" text-anchor="end" fill="#1a1a1a" stroke="#1a1a1a" stroke-width="0.22">1</text>
<line x1="16.30" y1="454.90" x2="18.30" y2="454.90" stroke="#333" stroke-width="0.8"/>
<text x="15.30" y="457.52" font-size="5.6" font-weight="bold" text-anchor="end" fill="#1a1a1a" stroke="#1a1a1a" stroke-width="0.22">2</text>
<line x1="16.30" y1="447.30" x2="18.30" y2="447.30" stroke="#333" stroke-width="0.8"/>
<text x="15.30" y="449.92" font-size="5.6" font-weight="bold" text-anchor="end" fill="#1a1a1a" stroke="#1a1a1a" stroke-width="0.22">3</text>
<line x1="16.30" y1="439.70" x2="18.30" y2="439.70" stroke="#333" stroke-width="0.8"/>
<text x="15.30" y="442.32" font-size="5.6" font-weight="bold" text-anchor="end" fill="#1a1a1a" stroke="#1a1a1a" stroke-width="0.22">4</text>
<line x1="16.30" y1="432.10" x2="18.30" y2="432.10" stroke="#333" stroke-width="0.8"/>
<text x="15.30" y="434.72" font-size="5.6" font-weight="bold" text-anchor="end" fill="#1a1a1a" stroke="#1a1a1a" stroke-width="0.22">5</text>
<line x1="16.30" y1="424.50" x2="18.30" y2="424.50" stroke="#333" stroke-width="0.8"/>
<text x="15.30" y="427.12" font-size="5.6" font-weight="bold" text-anchor="end" fill="#1a1a1a" stroke="#1a1a1a" stroke-width="0.22">6</text>
<line x1="16.30" y1="416.90" x2="18.30" y2="416.90" stroke="#333" stroke-width="0.8"/>
<text x="15.30" y="419.52" font-size="5.6" font-weight="bold" text-anchor="end" fill="#1a1a1a" stroke="#1a1a1a" stroke-width="0.22">7</text>
<line x1="16.30" y1="409.30" x2="18.30" y2="409.30" stroke="#333" stroke-width="0.8"/>
<text x="15.30" y="411.92" font-size="5.6" font-weight="bold" text-anchor="end" fill="#1a1a1a" stroke="#1a1a1a" stroke-width="0.22">8</text>
<line x1="16.30" y1="401.70" x2="18.30" y2="401.70" stroke="#333" stroke-width="0.8"/>
<text x="15.30" y="404.32" font-size="5.6" font-weight="bold" text-anchor="end" fill="#1a1a1a" stroke="#1a1a1a" stroke-width="0.22">9</text>
<line x1="16.30" y1="394.10" x2="18.30" y2="394.10" stroke="#333" stroke-width="0.8"/>
<text x="15.30" y="396.72" font-size="5.6" font-weight="bold" text-anchor="end" fill="#1a1a1a" stroke="#1a1a1a" stroke-width="0.22">10</text>
<line x1="16.30" y1="386.50" x2="18.30" y2="386.50" stroke="#333" stroke-width="0.8"/>
<text x="15.30" y="389.12" font-size="5.6" font-weight="bold" text-anchor="end" fill="#1a1a1a" stroke="#1a1a1a" stroke-width="0.22">11</text>
<line x1="16.30" y1="378.90" x2="18.30" y2="378.90" stroke="#333" stroke-width="0.8"/>
<text x="15.30" y="381.52" font-size="5.6" font-weight="bold" text-anchor="end" fill="#1a1a1a" stroke="#1a1a1a" stroke-width="0.22">12</text>
<line x1="16.30" y1="371.30" x2="18.30" y2="371.30" stroke="#333" stroke-width="0.8"/>
<text x="15.30" y="373.92" font-size="5.6" font-weight="bold" text-anchor="end" fill="#1a1a1a" stroke="#1a1a1a" stroke-width="0.22">13</text>
<line x1="16.30" y1="363.70" x2="18.30" y2="363.70" stroke="#333" stroke-width="0.8"/>
<text x="15.30" y="366.32" font-size="5.6" font-weight="bold" text-anchor="end" fill="#1a1a1a" stroke="#1a1a1a" stroke-width="0.22">14</text>
<line x1="16.30" y1="356.10" x2="18.30" y2="356.10" stroke="#333" stroke-width="0.8"/>
<text x="15.30" y="358.72" font-size="5.6" font-weight="bold" text-anchor="end" fill="#1a1a1a" stroke="#1a1a1a" stroke-width="0.22">15</text>
<line x1="18.30" y1="470.10" x2="208.60" y2="470.10" stroke="#626262" stroke-width="1.4"/>
<line x1="35.60" y1="470.10" x2="35.60" y2="472.40" stroke="#333" stroke-width="0.9"/>
<text x="35.60" y="478.10" font-size="5.5" font-weight="bold" text-anchor="middle" fill="#1a1a1a" stroke="#1a1a1a" stroke-width="0.22">0</text>
<line x1="64.40" y1="470.10" x2="64.40" y2="472.40" stroke="#333" stroke-width="0.9"/>
<text x="64.40" y="478.10" font-size="5.5" font-weight="bold" text-anchor="middle" fill="#1a1a1a" stroke="#1a1a1a" stroke-width="0.22">5</text>
<line x1="93.20" y1="470.10" x2="93.20" y2="472.40" stroke="#333" stroke-width="0.9"/>
<text x="93.20" y="478.10" font-size="5.5" font-weight="bold" text-anchor="middle" fill="#1a1a1a" stroke="#1a1a1a" stroke-width="0.22">10</text>
<line x1="122.00" y1="470.10" x2="122.00" y2="472.40" stroke="#333" stroke-width="0.9"/>
<text x="122.00" y="478.10" font-size="5.5" font-weight="bold" text-anchor="middle" fill="#1a1a1a" stroke="#1a1a1a" stroke-width="0.22">15</text>
<line x1="150.80" y1="470.10" x2="150.80" y2="472.40" stroke="#333" stroke-width="0.9"/>
<text x="150.80" y="478.10" font-size="5.5" font-weight="bold" text-anchor="middle" fill="#1a1a1a" stroke="#1a1a1a" stroke-width="0.22">20</text>
<line x1="179.60" y1="470.10" x2="179.60" y2="472.40" stroke="#333" stroke-width="0.9"/>
<text x="179.60" y="478.10" font-size="5.5" font-weight="bold" text-anchor="middle" fill="#1a1a1a" stroke="#1a1a1a" stroke-width="0.22">25</text>
<line x1="208.40" y1="470.10" x2="208.40" y2="472.40" stroke="#333" stroke-width="0.9"/>
<text x="208.40" y="478.10" font-size="5.5" font-weight="bold" text-anchor="middle" fill="#1a1a1a" stroke="#1a1a1a" stroke-width="0.22">30</text>
<text x="5.10" y="416.00" font-size="5.95" font-weight="bold" text-anchor="middle" fill="#1a1a1a" stroke="#1a1a1a" stroke-width="0.22" transform="rotate(-90 5.1 416.0)" dominant-baseline="middle">Mean X Intensity Above Baseline</text>
<text x="113.40" y="485.10" font-size="5.8" font-weight="bold" text-anchor="middle" fill="#1a1a1a" stroke="#1a1a1a" stroke-width="0.22">Day</text>
<polyline points="35.60,470.48 58.64,471.62 98.96,467.59 139.28,458.78 179.60,454.14" fill="none" stroke="#6c16a4" stroke-width="2.0" stroke-linejoin="round" stroke-linecap="round"/>
<polygon points="35.60,468.83 37.25,470.48 35.60,472.13 33.95,470.48" fill="#000"/>
<polygon points="58.64,469.97 60.29,471.62 58.64,473.27 56.99,471.62" fill="#000"/>
<polygon points="98.96,465.94 100.61,467.59 98.96,469.24 97.31,467.59" fill="#000"/>
<polygon points="139.28,457.13 140.93,458.78 139.28,460.43 137.63,458.78" fill="#000"/>
<polygon points="179.60,452.49 181.25,454.14 179.60,455.79 177.95,454.14" fill="#000"/>
<polyline points="35.60,469.72 58.64,468.43 104.72,451.40 139.28,430.43 185.36,430.58" fill="none" stroke="#6c16a4" stroke-width="2.0" stroke-linejoin="round" stroke-linecap="round"/>
<circle cx="35.60" cy="469.72" r="1.65" fill="#000"/>
<circle cx="58.64" cy="468.43" r="1.65" fill="#000"/>
<circle cx="104.72" cy="451.40" r="1.65" fill="#000"/>
<circle cx="139.28" cy="430.43" r="1.65" fill="#000"/>
<circle cx="185.36" cy="430.58" r="1.65" fill="#000"/>
<line x1="209.80" y1="361.00" x2="220.75" y2="361.00" stroke="#48106c" stroke-width="2.0"/>
<polygon points="215.28,358.93 217.34,361.00 215.28,363.07 213.21,361.00" fill="#000"/>
<text x="221.60" y="363.43" font-size="6.75" font-weight="normal" text-anchor="start" fill="#2a2a2a" stroke="#2a2a2a" stroke-width="0.22">aUTC SC 1</text>
<line x1="209.80" y1="368.70" x2="220.75" y2="368.70" stroke="#48106c" stroke-width="2.0"/>
<circle cx="215.28" cy="368.70" r="1.80" fill="#000"/>
<text x="221.60" y="371.13" font-size="6.75" font-weight="normal" text-anchor="start" fill="#2a2a2a" stroke="#2a2a2a" stroke-width="0.22">aUTC SC 2</text>
</svg>
</body></html>
